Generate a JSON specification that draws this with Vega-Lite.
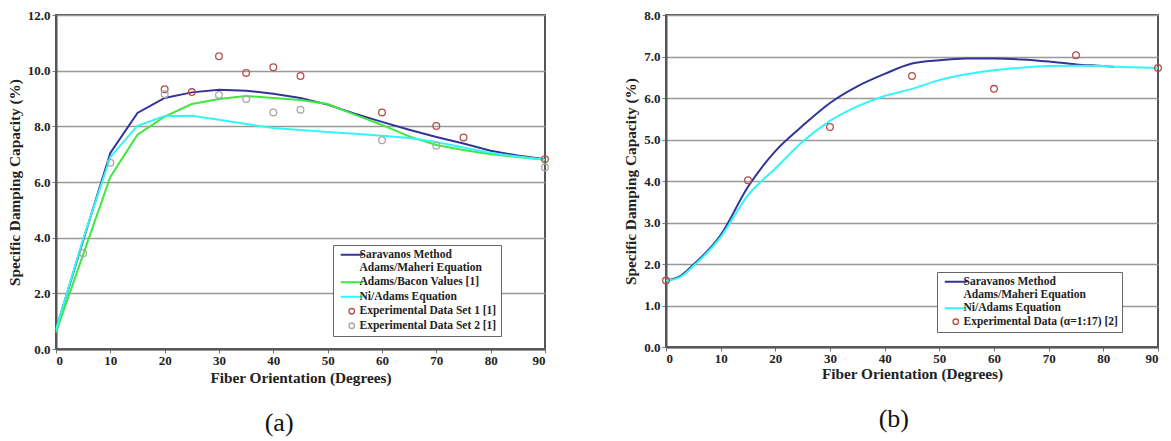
{
  "$schema": "https://vega.github.io/schema/vega-lite/v6.json",
  "background": "white",
  "padding": {"left": 6, "top": 8, "right": 2, "bottom": 0},
  "spacing": 70,
  "config": {
    "font": "Liberation Serif, DejaVu Serif, serif",
    "view": {"stroke": "#555555", "strokeWidth": 2},
    "axis": {
      "labelFont": "Liberation Serif, DejaVu Serif, serif", "labelFontWeight": "bold", "labelFontSize": 13, "labelColor": "#222",
      "titleFont": "Liberation Serif, DejaVu Serif, serif", "titleFontWeight": "bold", "titleFontSize": 15.3, "titleColor": "#222",
      "domainColor": "#555555", "domainWidth": 2, "tickColor": "#777", "tickSize": 4,
      "gridColor": "#999999", "gridWidth": 1.6
    },
    "legend": {
      "labelFont": "Liberation Serif, DejaVu Serif, serif", "labelFontWeight": "bold", "labelFontSize": 11.5, "labelColor": "#222",
      "strokeColor": "#666666", "fillColor": "white", "padding": 4, "rowPadding": 1.5, "labelOffset": 2, "symbolOffset": 9, "labelLimit": 260
    },
    "title": {"font": "Liberation Serif, DejaVu Serif, serif", "fontSize": 26, "fontWeight": "normal", "color": "#111", "orient": "bottom", "anchor": "middle", "frame": "bounds", "offset": 25}
  },
  "datasets": {
    "a": [
      {"series": "Saravanos Method", "deg": 0, "v": 0.7}, {"series": "Saravanos Method", "deg": 5, "v": 3.9}, {"series": "Saravanos Method", "deg": 10, "v": 7.04}, {"series": "Saravanos Method", "deg": 15, "v": 8.48}, {"series": "Saravanos Method", "deg": 20, "v": 9.02}, {"series": "Saravanos Method", "deg": 25, "v": 9.22}, {"series": "Saravanos Method", "deg": 30, "v": 9.31}, {"series": "Saravanos Method", "deg": 35, "v": 9.28}, {"series": "Saravanos Method", "deg": 40, "v": 9.17}, {"series": "Saravanos Method", "deg": 45, "v": 9.02}, {"series": "Saravanos Method", "deg": 50, "v": 8.78}, {"series": "Saravanos Method", "deg": 55, "v": 8.45}, {"series": "Saravanos Method", "deg": 60, "v": 8.16}, {"series": "Saravanos Method", "deg": 65, "v": 7.88}, {"series": "Saravanos Method", "deg": 70, "v": 7.62}, {"series": "Saravanos Method", "deg": 75, "v": 7.38}, {"series": "Saravanos Method", "deg": 80, "v": 7.12}, {"series": "Saravanos Method", "deg": 85, "v": 6.95}, {"series": "Saravanos Method", "deg": 90, "v": 6.82},
      {"series": "Adams/Bacon Values [1]", "deg": 0, "v": 0.6}, {"series": "Adams/Bacon Values [1]", "deg": 5, "v": 3.4}, {"series": "Adams/Bacon Values [1]", "deg": 10, "v": 6.18}, {"series": "Adams/Bacon Values [1]", "deg": 15, "v": 7.7}, {"series": "Adams/Bacon Values [1]", "deg": 20, "v": 8.35}, {"series": "Adams/Bacon Values [1]", "deg": 25, "v": 8.8}, {"series": "Adams/Bacon Values [1]", "deg": 30, "v": 8.98}, {"series": "Adams/Bacon Values [1]", "deg": 35, "v": 9.09}, {"series": "Adams/Bacon Values [1]", "deg": 40, "v": 9.02}, {"series": "Adams/Bacon Values [1]", "deg": 45, "v": 8.95}, {"series": "Adams/Bacon Values [1]", "deg": 50, "v": 8.8}, {"series": "Adams/Bacon Values [1]", "deg": 55, "v": 8.42}, {"series": "Adams/Bacon Values [1]", "deg": 60, "v": 8.05}, {"series": "Adams/Bacon Values [1]", "deg": 65, "v": 7.64}, {"series": "Adams/Bacon Values [1]", "deg": 70, "v": 7.33}, {"series": "Adams/Bacon Values [1]", "deg": 75, "v": 7.15}, {"series": "Adams/Bacon Values [1]", "deg": 80, "v": 7.0}, {"series": "Adams/Bacon Values [1]", "deg": 85, "v": 6.9}, {"series": "Adams/Bacon Values [1]", "deg": 90, "v": 6.8},
      {"series": "Ni/Adams Equation", "deg": 0, "v": 0.7}, {"series": "Ni/Adams Equation", "deg": 5, "v": 3.95}, {"series": "Ni/Adams Equation", "deg": 10, "v": 6.9}, {"series": "Ni/Adams Equation", "deg": 15, "v": 8.02}, {"series": "Ni/Adams Equation", "deg": 20, "v": 8.37}, {"series": "Ni/Adams Equation", "deg": 25, "v": 8.38}, {"series": "Ni/Adams Equation", "deg": 30, "v": 8.24}, {"series": "Ni/Adams Equation", "deg": 35, "v": 8.08}, {"series": "Ni/Adams Equation", "deg": 40, "v": 7.94}, {"series": "Ni/Adams Equation", "deg": 45, "v": 7.87}, {"series": "Ni/Adams Equation", "deg": 50, "v": 7.8}, {"series": "Ni/Adams Equation", "deg": 55, "v": 7.73}, {"series": "Ni/Adams Equation", "deg": 60, "v": 7.66}, {"series": "Ni/Adams Equation", "deg": 65, "v": 7.58}, {"series": "Ni/Adams Equation", "deg": 70, "v": 7.44}, {"series": "Ni/Adams Equation", "deg": 75, "v": 7.24}, {"series": "Ni/Adams Equation", "deg": 80, "v": 7.04}, {"series": "Ni/Adams Equation", "deg": 85, "v": 6.92}, {"series": "Ni/Adams Equation", "deg": 90, "v": 6.8},
      {"series": "Experimental Data Set 1 [1]", "deg": 20, "v": 9.33}, {"series": "Experimental Data Set 1 [1]", "deg": 25, "v": 9.23}, {"series": "Experimental Data Set 1 [1]", "deg": 30, "v": 10.52}, {"series": "Experimental Data Set 1 [1]", "deg": 35, "v": 9.92}, {"series": "Experimental Data Set 1 [1]", "deg": 40, "v": 10.12}, {"series": "Experimental Data Set 1 [1]", "deg": 45, "v": 9.81}, {"series": "Experimental Data Set 1 [1]", "deg": 60, "v": 8.5}, {"series": "Experimental Data Set 1 [1]", "deg": 70, "v": 8.01}, {"series": "Experimental Data Set 1 [1]", "deg": 75, "v": 7.6}, {"series": "Experimental Data Set 1 [1]", "deg": 90, "v": 6.82},
      {"series": "Experimental Data Set 2 [1]", "deg": 5, "v": 3.44}, {"series": "Experimental Data Set 2 [1]", "deg": 10, "v": 6.69}, {"series": "Experimental Data Set 2 [1]", "deg": 20, "v": 9.15}, {"series": "Experimental Data Set 2 [1]", "deg": 30, "v": 9.13}, {"series": "Experimental Data Set 2 [1]", "deg": 35, "v": 8.98}, {"series": "Experimental Data Set 2 [1]", "deg": 40, "v": 8.5}, {"series": "Experimental Data Set 2 [1]", "deg": 45, "v": 8.6}, {"series": "Experimental Data Set 2 [1]", "deg": 60, "v": 7.5}, {"series": "Experimental Data Set 2 [1]", "deg": 70, "v": 7.3}, {"series": "Experimental Data Set 2 [1]", "deg": 90, "v": 6.52}
    ],
    "b": [
      {"series": "Saravanos Method", "deg": 0, "v": 1.6}, {"series": "Saravanos Method", "deg": 2.5, "v": 1.7}, {"series": "Saravanos Method", "deg": 5, "v": 1.98}, {"series": "Saravanos Method", "deg": 10, "v": 2.7}, {"series": "Saravanos Method", "deg": 15, "v": 3.86}, {"series": "Saravanos Method", "deg": 20, "v": 4.72}, {"series": "Saravanos Method", "deg": 25, "v": 5.33}, {"series": "Saravanos Method", "deg": 30, "v": 5.88}, {"series": "Saravanos Method", "deg": 35, "v": 6.28}, {"series": "Saravanos Method", "deg": 40, "v": 6.58}, {"series": "Saravanos Method", "deg": 45, "v": 6.83}, {"series": "Saravanos Method", "deg": 50, "v": 6.91}, {"series": "Saravanos Method", "deg": 55, "v": 6.95}, {"series": "Saravanos Method", "deg": 60, "v": 6.95}, {"series": "Saravanos Method", "deg": 65, "v": 6.93}, {"series": "Saravanos Method", "deg": 70, "v": 6.88}, {"series": "Saravanos Method", "deg": 75, "v": 6.81}, {"series": "Saravanos Method", "deg": 80, "v": 6.77}, {"series": "Saravanos Method", "deg": 82, "v": 6.75},
      {"series": "Ni/Adams Equation", "deg": 0, "v": 1.6}, {"series": "Ni/Adams Equation", "deg": 2.5, "v": 1.68}, {"series": "Ni/Adams Equation", "deg": 5, "v": 1.95}, {"series": "Ni/Adams Equation", "deg": 10, "v": 2.65}, {"series": "Ni/Adams Equation", "deg": 15, "v": 3.66}, {"series": "Ni/Adams Equation", "deg": 20, "v": 4.3}, {"series": "Ni/Adams Equation", "deg": 25, "v": 4.95}, {"series": "Ni/Adams Equation", "deg": 30, "v": 5.45}, {"series": "Ni/Adams Equation", "deg": 35, "v": 5.8}, {"series": "Ni/Adams Equation", "deg": 40, "v": 6.05}, {"series": "Ni/Adams Equation", "deg": 45, "v": 6.22}, {"series": "Ni/Adams Equation", "deg": 50, "v": 6.43}, {"series": "Ni/Adams Equation", "deg": 55, "v": 6.57}, {"series": "Ni/Adams Equation", "deg": 60, "v": 6.67}, {"series": "Ni/Adams Equation", "deg": 65, "v": 6.73}, {"series": "Ni/Adams Equation", "deg": 70, "v": 6.77}, {"series": "Ni/Adams Equation", "deg": 75, "v": 6.78}, {"series": "Ni/Adams Equation", "deg": 80, "v": 6.77}, {"series": "Ni/Adams Equation", "deg": 85, "v": 6.74}, {"series": "Ni/Adams Equation", "deg": 90, "v": 6.72},
      {"series": "Experimental Data (α=1:17) [2]", "deg": 0, "v": 1.6}, {"series": "Experimental Data (α=1:17) [2]", "deg": 15, "v": 4.02}, {"series": "Experimental Data (α=1:17) [2]", "deg": 30, "v": 5.3}, {"series": "Experimental Data (α=1:17) [2]", "deg": 45, "v": 6.53}, {"series": "Experimental Data (α=1:17) [2]", "deg": 60, "v": 6.22}, {"series": "Experimental Data (α=1:17) [2]", "deg": 75, "v": 7.03}, {"series": "Experimental Data (α=1:17) [2]", "deg": 90, "v": 6.72}
    ]
  },
  "resolve": {"scale": {"color": "independent"}, "legend": {"color": "independent"}},
  "hconcat": [
    {
      "width": 489, "height": 334,
      "title": {"text": "(a)"},
      "data": {"name": "a"},
      "encoding": {
        "x": {"field": "deg", "type": "quantitative", "scale": {"domain": [0, 90], "nice": false, "zero": false}, "axis": {"values": [0, 10, 20, 30, 40, 50, 60, 70, 80, 90], "grid": false, "title": "Fiber Orientation (Degrees)", "labelPadding": 1, "titlePadding": 3}},
        "y": {"field": "v", "type": "quantitative", "scale": {"domain": [0, 12], "nice": false}, "axis": {"values": [0, 2, 4, 6, 8, 10, 12], "format": ".1f", "title": "Specific Damping Capacity (%)", "labelPadding": 2, "titlePadding": 5}},
        "color": {"field": "series", "type": "nominal",
          "scale": {"domain": ["Saravanos Method", "Adams/Bacon Values [1]", "Ni/Adams Equation", "Experimental Data Set 1 [1]", "Experimental Data Set 2 [1]"], "range": ["#333399", "#3ee83e", "#33f5f5", "#b5504b", "#a8a8a8"]},
          "legend": {"title": null, "orient": "none", "legendX": 277, "legendY": 230, "symbolSize": 484, "symbolStrokeWidth": 2,
            "labelExpr": "datum.label == 'Saravanos Method' ? ['Saravanos Method', 'Adams/Maheri Equation'] : datum.label",
            "encode": {"symbols": {"update": {
              "shape": {"signal": "datum.value == 'Experimental Data Set 1 [1]' || datum.value == 'Experimental Data Set 2 [1]' ? 'circle' : 'stroke'"},
              "size": {"signal": "datum.value == 'Experimental Data Set 1 [1]' || datum.value == 'Experimental Data Set 2 [1]' ? 30 : 484"},
              "strokeWidth": {"signal": "datum.value == 'Experimental Data Set 1 [1]' || datum.value == 'Experimental Data Set 2 [1]' ? 1.3 : 2"}
            }}}}}
      },
      "layer": [
        {"transform": [{"filter": "datum.series != 'Experimental Data Set 1 [1]' && datum.series != 'Experimental Data Set 2 [1]'"}], "mark": {"type": "line", "strokeWidth": 2}},
        {"transform": [{"filter": "datum.series == 'Experimental Data Set 1 [1]' || datum.series == 'Experimental Data Set 2 [1]'"}], "mark": {"type": "point", "shape": "circle", "filled": false, "size": 45, "strokeWidth": 1.3, "opacity": 1}}
      ]
    },
    {
      "width": 492, "height": 332,
      "title": {"text": "(b)"},
      "data": {"name": "b"},
      "encoding": {
        "x": {"field": "deg", "type": "quantitative", "scale": {"domain": [0, 90], "nice": false, "zero": false}, "axis": {"values": [0, 10, 20, 30, 40, 50, 60, 70, 80, 90], "grid": false, "title": "Fiber Orientation (Degrees)", "labelPadding": 1, "titlePadding": 1}},
        "y": {"field": "v", "type": "quantitative", "scale": {"domain": [0, 8], "nice": false}, "axis": {"values": [0, 1, 2, 3, 4, 5, 6, 7, 8], "format": ".1f", "title": "Specific Damping Capacity (%)", "labelPadding": 2, "titlePadding": 5}},
        "color": {"field": "series", "type": "nominal",
          "scale": {"domain": ["Saravanos Method", "Ni/Adams Equation", "Experimental Data (α=1:17) [2]"], "range": ["#333399", "#33f5f5", "#b5504b"]},
          "legend": {"title": null, "orient": "none", "legendX": 271, "legendY": 257, "symbolSize": 484, "symbolStrokeWidth": 2, "rowPadding": 0.5,
            "labelExpr": "datum.label == 'Saravanos Method' ? ['Saravanos Method', 'Adams/Maheri Equation'] : datum.label",
            "encode": {"symbols": {"update": {
              "shape": {"signal": "datum.value == 'Experimental Data (α=1:17) [2]' ? 'circle' : 'stroke'"},
              "size": {"signal": "datum.value == 'Experimental Data (α=1:17) [2]' ? 30 : 484"},
              "strokeWidth": {"signal": "datum.value == 'Experimental Data (α=1:17) [2]' ? 1.3 : 2"}
            }}}}}
      },
      "layer": [
        {"transform": [{"filter": "datum.series != 'Experimental Data (α=1:17) [2]'"}], "mark": {"type": "line", "strokeWidth": 2, "interpolate": "monotone"}},
        {"transform": [{"filter": "datum.series == 'Experimental Data (α=1:17) [2]'"}], "mark": {"type": "point", "shape": "circle", "filled": false, "size": 45, "strokeWidth": 1.3, "opacity": 1}}
      ]
    }
  ]
}
